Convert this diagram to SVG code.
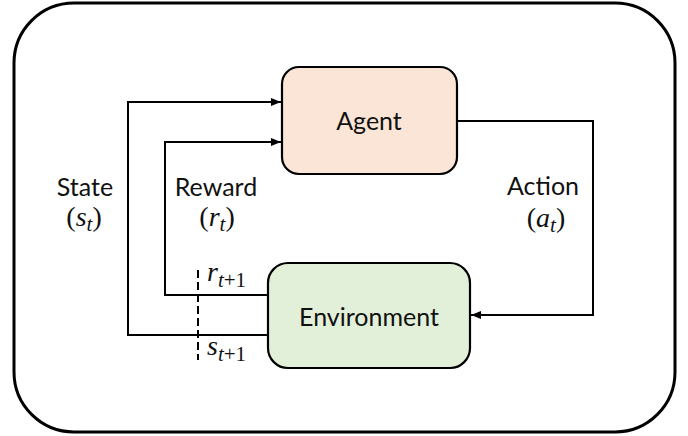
<svg xmlns="http://www.w3.org/2000/svg" width="688" height="436" viewBox="0 0 688 436">
<defs>
<marker id="ah" markerWidth="10" markerHeight="8" refX="10" refY="4" orient="auto" markerUnits="userSpaceOnUse">
<path d="M0,0 L10,4 L0,8 Z" fill="#000"/>
</marker>
<style>
.lbl{font-family:"Lato","Liberation Sans",sans-serif;font-size:25px;fill:#111;text-anchor:middle}
.math{font-family:"Liberation Serif","DejaVu Serif",serif;font-size:28px;fill:#111;text-anchor:middle}
.it{font-style:italic}
.sub{font-style:italic;font-size:21px}
.conn{fill:none;stroke:#000;stroke-width:2}
.box{stroke:#000;stroke-width:2.2}
</style>
</defs>
<rect x="14" y="3" width="661" height="429" rx="60" ry="60" fill="#fff" stroke="#000" stroke-width="3"/>
<g id="connectors">
<path class="conn" d="M268 335 H128 V102 H281" marker-end="url(#ah)"/>
<path class="conn" d="M268 295 H165 V142 H281" marker-end="url(#ah)"/>
<path class="conn" d="M457 121 H593 V315 H471" marker-end="url(#ah)"/>
<path class="conn" d="M198 270 V360" stroke-dasharray="8,4" stroke-width="2.2"/>
</g>
<g id="agent">
<rect class="box" x="282" y="67" width="175" height="107" rx="17" fill="#FBE5D6"/>
<text class="lbl" x="369" y="130">Agent</text>
</g>
<g id="environment">
<rect class="box" x="268" y="263" width="202" height="105" rx="20" fill="#E2F0D9"/>
<text class="lbl" x="369" y="326">Environment</text>
</g>
<g id="labels">
<text class="lbl" x="85" y="196">State</text>
<text class="math" x="84" y="226">(<tspan class="it">s</tspan><tspan class="sub" dy="5">t</tspan><tspan dy="-5">)</tspan></text>
<text class="lbl" x="216" y="196">Reward</text>
<text class="math" x="217" y="226">(<tspan class="it">r</tspan><tspan class="sub" dy="5">t</tspan><tspan dy="-5">)</tspan></text>
<text class="lbl" x="543" y="195">Action</text>
<text class="math" x="546" y="227">(<tspan class="it">a</tspan><tspan class="sub" dy="5">t</tspan><tspan dy="-5">)</tspan></text>
<text class="math" x="207" y="281" style="text-anchor:start"><tspan class="it">r</tspan><tspan class="sub" dy="6">t</tspan><tspan font-size="21" dy="0">+1</tspan></text>
<text class="math" x="207" y="355" style="text-anchor:start"><tspan class="it">s</tspan><tspan class="sub" dy="6">t</tspan><tspan font-size="21" dy="0">+1</tspan></text>
</g>
</svg>
